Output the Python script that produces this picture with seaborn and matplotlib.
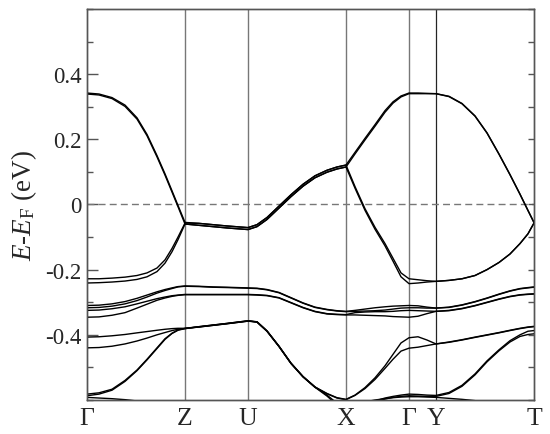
import numpy as np
import pandas as pd
import matplotlib
matplotlib.use("Agg")
import matplotlib.pyplot as plt
from matplotlib.ticker import MultipleLocator, FixedLocator
import seaborn as sns

# --- k-path (distance along path) and high-symmetry labels ---
k_points = [0, 98, 161, 259, 322, 349, 447]
k_labels = ["Γ", "Z", "U", "X", "Γ", "Y", "T"]

# common k grid used for the bands (Γ-Z | Z-U | U-X | X-Γ | Γ-Y | Y-T)
k_grid = ([0, 12, 25, 38, 50, 60, 70, 78, 85, 91, 98]
          + [112, 126, 140, 161]
          + [170, 180, 192, 204, 216, 228, 240, 250, 259]
          + [268, 278, 288, 298, 306, 314, 322]
          + [331, 340, 349]
          + [362, 375, 388, 400, 412, 423, 433, 441, 447])

# --- band energies (eV) ---
band_a1 = ([0.342, 0.339, 0.328, 0.305, 0.266, 0.215, 0.150, 0.094, 0.042, -0.003, -0.055]
           + [-0.058, -0.062, -0.066, -0.071]
           + [-0.062, -0.040, -0.005, 0.030, 0.062, 0.088, 0.105, 0.115, 0.121]
           + [0.160, 0.203, 0.245, 0.288, 0.315, 0.333, 0.342]
           + [0.342, 0.341, 0.340]
           + [0.332, 0.310, 0.272, 0.220, 0.155, 0.092, 0.032, -0.018, -0.055])
band_a2 = ([0.339, 0.336, 0.325, 0.301, 0.262, 0.211, 0.146, 0.090, 0.038, -0.007, -0.060]
           + [-0.064, -0.068, -0.072, -0.077]
           + [-0.068, -0.046, -0.011, 0.024, 0.056, 0.082, 0.099, 0.109, 0.115]
           + [0.155, 0.198, 0.240, 0.283, 0.311, 0.330, 0.340]
           + [0.340, 0.340, 0.340]
           + [0.331, 0.309, 0.271, 0.219, 0.154, 0.091, 0.031, -0.019, -0.056])
band_b1 = ([-0.228, -0.228, -0.226, -0.223, -0.218, -0.210, -0.195, -0.170, -0.135, -0.100, -0.057]
           + [-0.058, -0.062, -0.066, -0.071]
           + [-0.062, -0.040, -0.005, 0.030, 0.062, 0.088, 0.105, 0.115, 0.121]
           + [0.055, -0.013, -0.070, -0.120, -0.165, -0.210, -0.228]
           + [-0.231, -0.234, -0.236]
           + [-0.233, -0.228, -0.218, -0.200, -0.178, -0.152, -0.120, -0.090, -0.057])
band_b2 = ([-0.241, -0.240, -0.238, -0.235, -0.230, -0.222, -0.206, -0.180, -0.145, -0.108, -0.060]
           + [-0.064, -0.068, -0.072, -0.077]
           + [-0.068, -0.046, -0.011, 0.024, 0.056, 0.082, 0.099, 0.109, 0.115]
           + [0.050, -0.018, -0.076, -0.127, -0.174, -0.222, -0.243]
           + [-0.241, -0.238, -0.236]
           + [-0.233, -0.228, -0.218, -0.200, -0.178, -0.152, -0.120, -0.090, -0.057])
band_c1 = ([-0.310, -0.309, -0.305, -0.298, -0.288, -0.278, -0.268, -0.261, -0.256, -0.252, -0.250]
           + [-0.251, -0.253, -0.254, -0.256]
           + [-0.257, -0.261, -0.270, -0.286, -0.302, -0.315, -0.322, -0.326, -0.328]
           + [-0.325, -0.321, -0.317, -0.314, -0.312, -0.311, -0.310]
           + [-0.311, -0.315, -0.318]
           + [-0.315, -0.308, -0.298, -0.287, -0.275, -0.265, -0.258, -0.255, -0.253])
band_c2 = ([-0.317, -0.316, -0.312, -0.305, -0.295, -0.284, -0.272, -0.264, -0.258, -0.253, -0.251]
           + [-0.252, -0.254, -0.255, -0.257]
           + [-0.258, -0.262, -0.271, -0.287, -0.303, -0.316, -0.323, -0.327, -0.329]
           + [-0.328, -0.327, -0.326, -0.324, -0.321, -0.318, -0.317]
           + [-0.317, -0.318, -0.318]
           + [-0.316, -0.309, -0.299, -0.288, -0.276, -0.266, -0.259, -0.256, -0.254])
band_c3 = ([-0.325, -0.324, -0.320, -0.314, -0.305, -0.297, -0.289, -0.284, -0.280, -0.278, -0.276]
           + [-0.276, -0.276, -0.276, -0.276]
           + [-0.277, -0.279, -0.286, -0.301, -0.316, -0.328, -0.335, -0.337, -0.338]
           + [-0.332, -0.330, -0.329, -0.329, -0.328, -0.326, -0.325]
           + [-0.326, -0.327, -0.328]
           + [-0.325, -0.319, -0.310, -0.300, -0.290, -0.282, -0.277, -0.275, -0.274])
band_c4 = ([-0.346, -0.345, -0.340, -0.332, -0.318, -0.306, -0.294, -0.287, -0.282, -0.279, -0.277]
           + [-0.277, -0.277, -0.277, -0.277]
           + [-0.278, -0.280, -0.287, -0.302, -0.317, -0.329, -0.336, -0.338, -0.339]
           + [-0.339, -0.340, -0.341, -0.342, -0.344, -0.345, -0.346]
           + [-0.343, -0.335, -0.328]
           + [-0.326, -0.320, -0.311, -0.301, -0.291, -0.283, -0.278, -0.276, -0.275])
band_d1 = ([-0.407, -0.406, -0.403, -0.399, -0.394, -0.390, -0.386, -0.383, -0.381, -0.380, -0.380]
           + [-0.375, -0.370, -0.365, -0.357]
           + [-0.360, -0.388, -0.435, -0.487, -0.528, -0.560, -0.580, -0.593, -0.598]
           + [-0.585, -0.562, -0.532, -0.495, -0.460, -0.425, -0.409]
           + [-0.406, -0.416, -0.428]
           + [-0.422, -0.415, -0.407, -0.400, -0.393, -0.386, -0.380, -0.376, -0.374])
band_d2 = ([-0.440, -0.439, -0.435, -0.428, -0.419, -0.410, -0.400, -0.393, -0.387, -0.383, -0.381]
           + [-0.376, -0.371, -0.366, -0.358]
           + [-0.361, -0.389, -0.436, -0.488, -0.529, -0.561, -0.581, -0.594, -0.599]
           + [-0.586, -0.565, -0.537, -0.503, -0.475, -0.450, -0.441]
           + [-0.438, -0.433, -0.428]
           + [-0.423, -0.416, -0.408, -0.401, -0.394, -0.387, -0.381, -0.377, -0.375])
band_d3 = ([-0.582, -0.578, -0.567, -0.540, -0.508, -0.475, -0.440, -0.412, -0.395, -0.385, -0.380]
           + [-0.376, -0.371, -0.366, -0.358]
           + [-0.360, -0.388, -0.435, -0.487, -0.528, -0.560, -0.585, -0.610, -0.640]
           + [-0.628, -0.615, -0.603, -0.594, -0.589, -0.585, -0.582]
           + [-0.583, -0.585, -0.586]
           + [-0.577, -0.555, -0.520, -0.480, -0.446, -0.418, -0.400, -0.389, -0.387])
band_d4 = ([-0.587, -0.582, -0.570, -0.543, -0.510, -0.477, -0.442, -0.414, -0.396, -0.386, -0.381]
           + [-0.375, -0.370, -0.365, -0.357]
           + [-0.361, -0.389, -0.436, -0.488, -0.529, -0.561, -0.588, -0.615, -0.645]
           + [-0.632, -0.618, -0.606, -0.597, -0.592, -0.589, -0.587]
           + [-0.588, -0.589, -0.589]
           + [-0.580, -0.558, -0.523, -0.483, -0.449, -0.422, -0.405, -0.399, -0.397])

# short pieces of bands that dip just below the window
k_low1 = [0, 12, 25, 38, 50]
band_low1 = [-0.592, -0.594, -0.596, -0.599, -0.603]
k_low2 = [278, 288, 298, 306, 314, 322, 331, 340, 349, 362, 375, 388]
band_low2 = [-0.606, -0.600, -0.596, -0.593, -0.591, -0.590, -0.590, -0.591, -0.592, -0.595, -0.598, -0.602]

bands = {"a1": band_a1, "a2": band_a2, "b1": band_b1, "b2": band_b2,
         "c1": band_c1, "c2": band_c2, "c3": band_c3, "c4": band_c4,
         "d1": band_d1, "d2": band_d2, "d3": band_d3, "d4": band_d4}

frames = [pd.DataFrame({"k": k_grid, "E": v, "band": name}) for name, v in bands.items()]
frames.append(pd.DataFrame({"k": k_low1, "E": band_low1, "band": "low1"}))
frames.append(pd.DataFrame({"k": k_low2, "E": band_low2, "band": "low2"}))
df = pd.concat(frames, ignore_index=True)

# --- style ---
sns.set_style("ticks")
plt.rcParams["font.family"] = ["Liberation Serif", "DejaVu Serif"]
plt.rcParams["mathtext.fontset"] = "custom"
plt.rcParams["mathtext.rm"] = "Liberation Serif"
plt.rcParams["mathtext.it"] = "Liberation Serif:italic"

fig = plt.figure(figsize=(5.5, 4.35), dpi=100)
ax = fig.add_axes([0.1582, 0.0782, 0.8127, 0.8989])

frame_col = "#555555"
for k in k_points[1:-1]:
    ax.axvline(k, color="#777777", lw=1.0, zorder=1)
ax.axvline(k_points[5], color="#222222", lw=0.7, zorder=1)
ax.axhline(0, color="#777777", lw=1.0, ls=(0, (5, 3)), zorder=1)

sns.lineplot(data=df, x="k", y="E", units="band", estimator=None, sort=False,
             color="black", linewidth=1.0, ax=ax, zorder=3)

ax.set_xlim(k_points[0], k_points[-1])
ax.set_ylim(-0.6, 0.6)
ax.set_xticks(k_points)
ax.set_xticklabels(k_labels, fontsize=18.5)
ax.tick_params(axis="x", length=0, pad=5)

ax.yaxis.set_major_locator(FixedLocator([-0.4, -0.2, 0, 0.2, 0.4]))
ax.set_yticklabels(["-0.4", "-0.2", "0", "0.2", "0.4"], fontsize=16.5)
ax.yaxis.set_minor_locator(MultipleLocator(0.1))
ax.tick_params(axis="y", which="major", direction="in", length=8, width=1,
               color=frame_col, pad=4)
ax.tick_params(axis="y", which="minor", direction="in", length=4.3, width=1,
               color=frame_col)

# right-hand ticks every 0.1, all short
ax_r = ax.twinx()
ax_r.set_ylim(-0.6, 0.6)
ax_r.yaxis.set_major_locator(MultipleLocator(0.1))
ax_r.tick_params(axis="y", direction="in", length=4.3, width=1, color=frame_col,
                 labelright=False)

for a in (ax, ax_r):
    for s in a.spines.values():
        s.set_color(frame_col)
        s.set_linewidth(1.0)

ax.set_xlabel("")
ax.set_ylabel(r"$E$-$E_\mathrm{F}$ (eV)", fontsize=19.5)
ax.yaxis.set_label_coords(-0.108, 0.5)

fig.savefig("out.png", dpi=100)
